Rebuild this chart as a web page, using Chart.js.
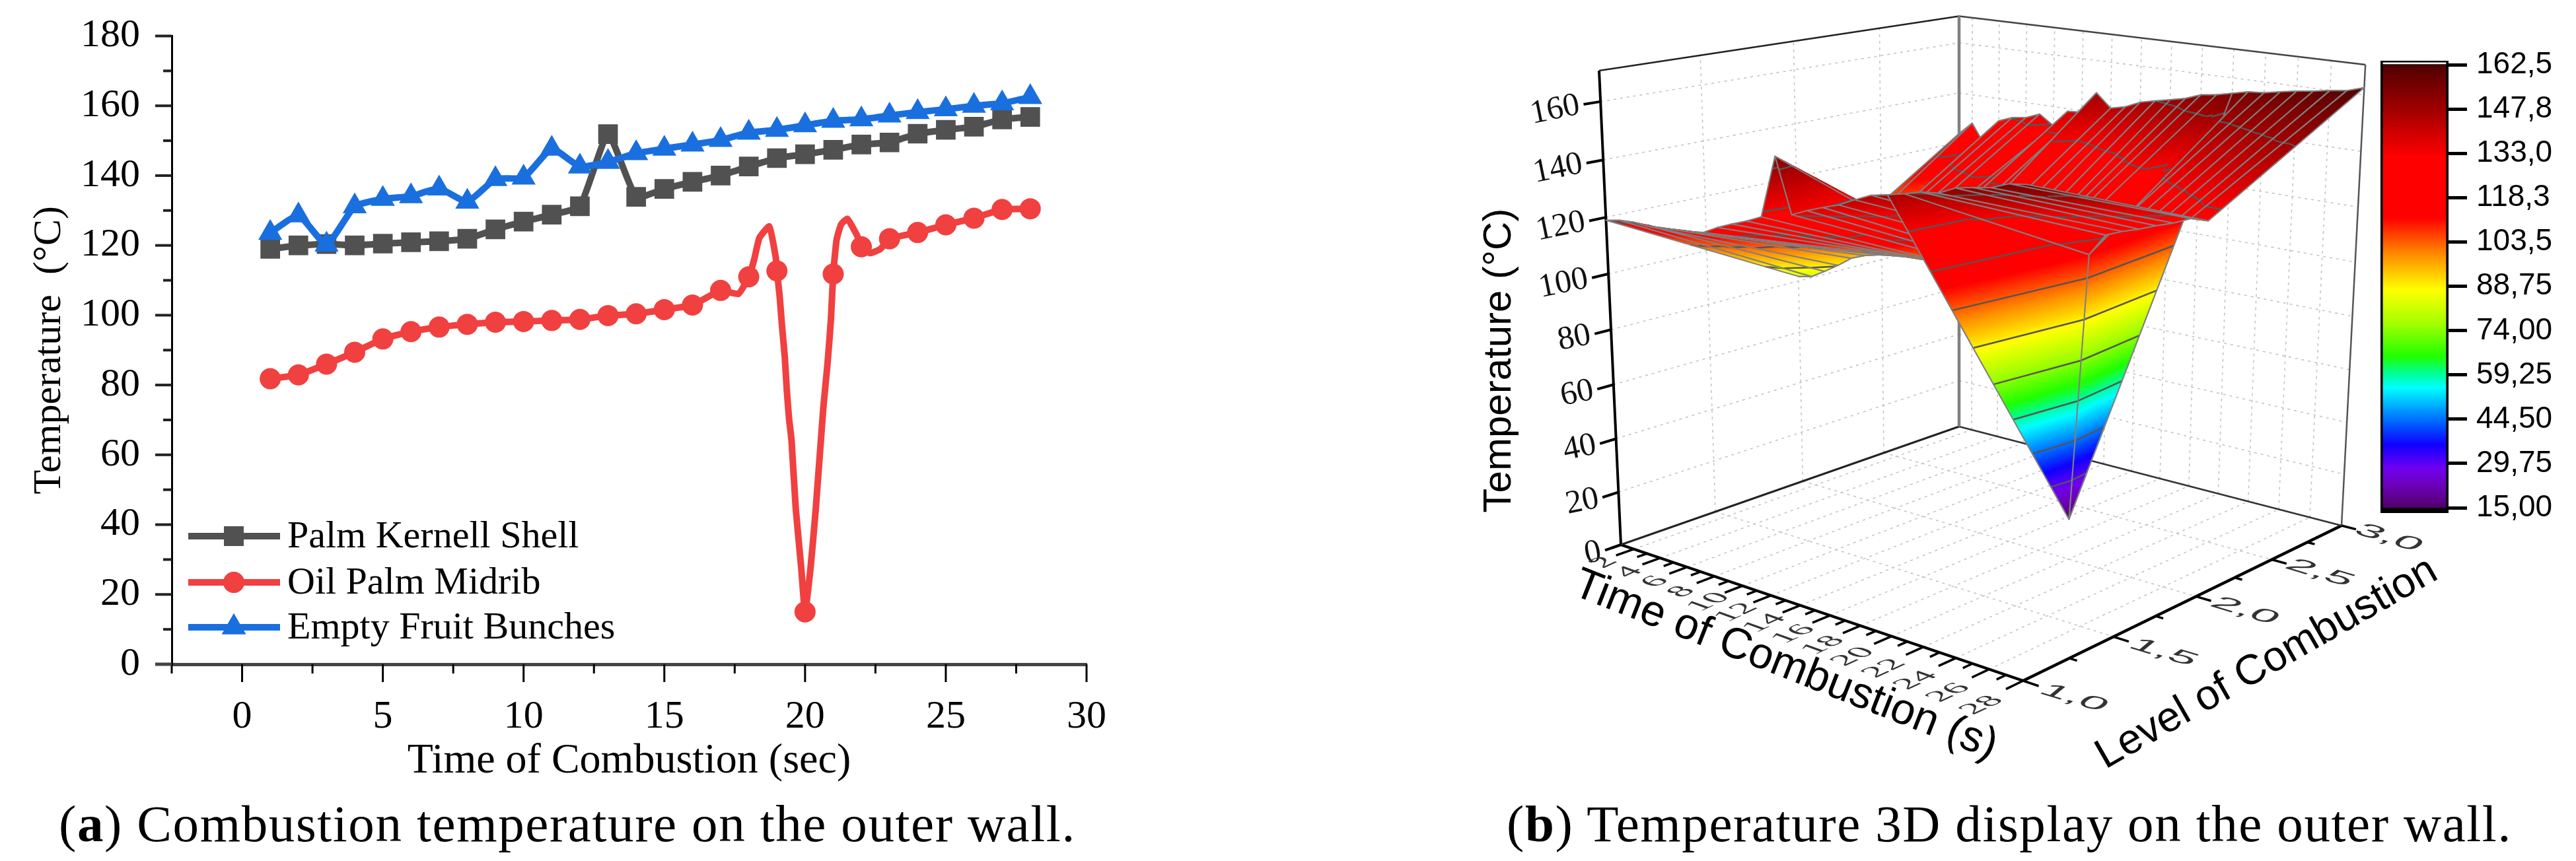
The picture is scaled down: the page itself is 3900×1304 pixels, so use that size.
<!DOCTYPE html>
<html>
<head>
<meta charset="utf-8">
<title>Combustion temperature on the outer wall</title>
<script src="https://cdn.jsdelivr.net/npm/chart.js@4"></script>
<style>
  html, body { margin: 0; background: #fff; }
  #page { position: relative; width: 3900px; height: 1304px; overflow: hidden; }
  canvas { position: absolute; }
  .caption { position: absolute; white-space: nowrap; color: #000; font-family: "Liberation Serif", serif; font-size: 79px; line-height: 80px; }
</style>
</head>
<body>
<div id="page">
  <canvas id="lines" width="1780" height="1200" style="left:0;top:0"></canvas>
  <canvas id="surface" width="1560" height="1200" style="left:2200px;top:0"></canvas>
  <canvas id="colorbar" width="300" height="800" style="left:3600px;top:0"></canvas>
  <div class="caption" style="left:89px;top:1208px;letter-spacing:1.6px">(<b>a</b>) Combustion temperature on the outer wall.</div>
  <div class="caption" style="left:2281px;top:1208px;letter-spacing:1.6px">(<b>b</b>) Temperature 3D display on the outer wall.</div>
</div>
<script>
// values
const times = [1, 2, 3, 4, 5, 6, 7, 8, 9, 10, 11, 12, 13, 14, 15, 16, 17, 18, 19, 20, 21, 22, 23, 24, 25, 26, 27, 28];
const palmKernell = [119, 120, 120.4, 120, 120.5, 120.9, 121.2, 121.9, 124.6, 126.8, 128.8, 131.2, 151.9, 133.9, 136.2, 138.2, 140, 142.6, 145, 146.1, 147.4, 148.9, 149.5, 152, 153.1, 154, 156.1, 156.8];
const oilPalmMidrib = [81.8, 82.9, 86, 89.4, 93.2, 95.3, 96.6, 97.4, 98, 98.2, 98.5, 98.8, 99.9, 100.4, 101.6, 102.9, 107.1, 111, 112.7, 15, 111.8, 119.6, 121.9, 123.7, 125.9, 127.8, 130.3, 130.5];
const emptyFruit = [123.6, 128.6, 120.2, 131.2, 133.3, 134.1, 136.3, 132.5, 139, 139.4, 147.7, 142.6, 143.9, 146.4, 147.7, 148.9, 150.2, 152.3, 153.1, 154.4, 155.7, 156.1, 157.2, 158.2, 159, 160, 160.7, 162.5];
const midribBendTimes = [17.63, 18.19, 18.38, 18.73, 18.96, 19.1, 19.18, 19.28, 19.35, 19.43, 19.52, 19.67, 19.86, 20.2, 20.38, 20.65, 20.8, 20.92, 21.12, 21.28, 21.5, 21.85, 22.3, 22.68];
const midribBendTemps = [106.1, 115.9, 122.2, 125.4, 116.5, 105.2, 97, 88, 78.7, 70.5, 64, 44.5, 28, 28, 44.5, 73.6, 86.3, 98.9, 121.6, 126, 127.6, 122.8, 117.8, 119];

const seriesNames = ["Palm Kernell Shell", "Oil Palm Midrib", "Empty Fruit Bunches"];
const seriesColors = ["#515151", "#F14040", "#1A6FDF"];

const xTicks = [0, 5, 10, 15, 20, 25, 30];
const xMinorTicks = [-2.5, 2.5, 7.5, 12.5, 17.5, 22.5, 27.5];
const yTicks = [0, 20, 40, 60, 80, 100, 120, 140, 160, 180];
const yMinorTicks = [10, 30, 50, 70, 90, 110, 130, 150, 170];

const levels = [1, 2, 3];
const timeTicks = [2, 4, 6, 8, 10, 12, 14, 16, 18, 20, 22, 24, 26, 28];
const levelTicks = [1, 1.5, 2, 2.5, 3];
const levelTickLabels = ["1,0", "1,5", "2,0", "2,5", "3,0"];
const levelMinorTicks = [1.25, 1.75, 2.25, 2.75];
const tempTicks = [0, 20, 40, 60, 80, 100, 120, 140, 160];
const tempTop = 170.5;

const colorbarTicks = [15, 29.75, 44.5, 59.25, 74, 88.75, 103.5, 118.25, 133, 147.75, 162.5];
const colorbarLabels = ["15,00", "29,75", "44,50", "59,25", "74,00", "88,75", "103,5", "118,3", "133,0", "147,8", "162,5"];
const paletteValues = [15, 22, 28, 36, 42, 48, 55, 60, 65.5, 76, 87.6, 99, 111.6, 131.8, 147.75, 162.5];
const paletteColors = ["#500068", "#6c00b4", "#7000f0", "#1000ff", "#0050ff", "#00a0ff", "#00ffff", "#00ff90", "#20ff00", "#a0ff00", "#ffff00", "#ff9000", "#ff0000", "#ff0000", "#a00000", "#500000"];

Chart.defaults.animation = false;
Chart.defaults.devicePixelRatio = 1;
Chart.defaults.plugins.tooltip.enabled = false;

const SERIF = "'Liberation Serif', serif";
const SANS = "'Liberation Sans', sans-serif";

// ---------- (a) line chart ----------
const midribCurve = times.map((t, i) => ({ x: t, y: oilPalmMidrib[i] }))
  .concat(midribBendTimes.map((t, i) => ({ x: t, y: midribBendTemps[i] })))
  .sort((a, b) => a.x - b.x);

function lineSet(i, data, pointStyle, radius, order) {
  return {
    label: seriesNames[i], data, order, pointStyle,
    borderColor: seriesColors[i], backgroundColor: seriesColors[i],
    borderWidth: 10, tension: 0.15,
    pointRadius: (ctx) => (Number.isInteger(data[ctx.dataIndex].x) ? radius : 0),
    pointBorderWidth: 0,
  };
}

const lineTicksAndLegend = {
  id: "lineTicksAndLegend",
  afterDraw(chart) {
    const { ctx, scales: { x, y } } = chart;
    const tick = (x0, y0, x1, y1, color, w) => {
      ctx.strokeStyle = color; ctx.lineWidth = w;
      ctx.beginPath(); ctx.moveTo(x0, y0); ctx.lineTo(x1, y1); ctx.stroke();
    };
    ctx.save();
    xTicks.forEach((v) => tick(x.getPixelForValue(v), y.bottom, x.getPixelForValue(v), y.bottom + 27, "#000", 3));
    xMinorTicks.forEach((v) => tick(x.getPixelForValue(v), y.bottom, x.getPixelForValue(v), y.bottom + 14, "#000", 3));
    yTicks.forEach((v) => tick(x.left, y.getPixelForValue(v), x.left - 25, y.getPixelForValue(v), v === 0 ? "#444" : "#222", v === 0 ? 5 : 4));
    yMinorTicks.forEach((v) => tick(x.left, y.getPixelForValue(v), x.left - 13, y.getPixelForValue(v), "#222", 4));

    // legend keeps the line and the marker together
    const rows = [812, 882, 950];
    const styles = ["rect", "circle", "triangle"];
    const radii = [21, 16, 21];
    seriesNames.forEach((name, i) => {
      tick(285, rows[i], 424, rows[i], seriesColors[i], 10);
      ctx.fillStyle = seriesColors[i];
      Chart.helpers.drawPoint(ctx, { pointStyle: styles[i], radius: radii[i], borderWidth: 0 }, 354, rows[i]);
      ctx.fill();
      ctx.fillStyle = "#000";
      ctx.font = "58px " + SERIF;
      ctx.textAlign = "left"; ctx.textBaseline = "middle";
      ctx.fillText(name, 435, rows[i] + 2);
    });
    ctx.restore();
  },
};

new Chart(document.getElementById("lines"), {
  type: "line",
  data: {
    datasets: [
      lineSet(0, times.map((t, i) => ({ x: t, y: palmKernell[i] })), "rect", 21, 2),
      lineSet(1, midribCurve, "circle", 16, 1),
      lineSet(2, times.map((t, i) => ({ x: t, y: emptyFruit[i] })), "triangle", 21, 0),
    ],
  },
  plugins: [lineTicksAndLegend],
  options: {
    responsive: false,
    layout: { padding: { top: 54.5, right: 135, left: 0, bottom: 0 } },
    plugins: { legend: { display: false } },
    scales: {
      x: {
        type: "linear", min: -2.5, max: 30,
        afterFit: (s) => { s.height = 194; s.paddingLeft = 0; s.paddingRight = 0; },
        afterBuildTicks: (s) => { s.ticks = xTicks.map((v) => ({ value: v })); },
        grid: { drawOnChartArea: false, drawTicks: false },
        border: { color: "#444", width: 5 },
        ticks: { color: "#000", font: { family: SERIF, size: 60 }, padding: 44, maxRotation: 0, autoSkip: false },
        title: { display: true, text: "Time of Combustion (sec)", color: "#000", font: { family: SERIF, size: 64 }, padding: { top: 0, bottom: 8 } },
      },
      y: {
        min: 0, max: 180,
        afterFit: (s) => { s.width = 260; s.paddingTop = 0; s.paddingBottom = 0; },
        afterBuildTicks: (s) => { s.ticks = yTicks.map((v) => ({ value: v })); },
        grid: { drawOnChartArea: false, drawTicks: false },
        border: { color: "#000", width: 3 },
        ticks: { color: "#000", font: { family: SERIF, size: 60 }, padding: 48, autoSkip: false },
        title: { display: true, text: "Temperature  (°C)", color: "#000", font: { family: SERIF, size: 60 }, padding: { top: 39, bottom: 0 } },
      },
    },
  },
});

// ---------- (b) surface ----------
// camera: box corners on the page, floor homography plus one vertical term
const floorLeft = [2454, 825], floorFront = [3063, 1031], floorRight = [3545, 796], floorBack = [2966, 646];
const topLeft = [2421, 107], topBack = [2966, 24];

function buildCamera() {
  const [x0, y0] = floorLeft, [x1, y1] = floorFront, [x2, y2] = floorRight, [x3, y3] = floorBack;
  const dx1 = x1 - x2, dx2 = x3 - x2, sx = x0 - x1 + x2 - x3;
  const dy1 = y1 - y2, dy2 = y3 - y2, sy = y0 - y1 + y2 - y3;
  const den = dx1 * dy2 - dx2 * dy1;
  const g = (sx * dy2 - dx2 * sy) / den, h = (dx1 * sy - sx * dy1) / den;
  const a = x1 - x0 + g * x1, b = x3 - x0 + h * x3, c = x0;
  const d = y1 - y0 + g * y1, e = y3 - y0 + h * y3, f = y0;
  const r = ((x3 - topBack[0]) * (1 + h) + (topLeft[0] - c)) / (topBack[0] - topLeft[0]);
  const p = topLeft[0] * (1 + r) - c, q = topLeft[1] * (1 + r) - f;
  return { a, b, c, d, e, f, g, h, p, q, r };
}
const cam = buildCamera();

function depth(t, level, temp) {
  return cam.g * (t - 1) / 27 + cam.h * (level - 1) / 2 + cam.r * temp / tempTop + 1;
}
function project(t, level, temp) {
  const u = (t - 1) / 27, v = (level - 1) / 2, w = temp / tempTop;
  const den = depth(t, level, temp);
  return {
    x: (cam.a * u + cam.b * v + cam.c + cam.p * w) / den,
    y: (cam.d * u + cam.e * v + cam.f + cam.q * w) / den,
  };
}

function hexRgb(hex) {
  return [1, 3, 5].map((i) => parseInt(hex.slice(i, i + 2), 16));
}
function paletteAt(value) {
  let i = 0;
  while (i < paletteValues.length - 2 && value > paletteValues[i + 1]) i++;
  const k = Math.min(1, Math.max(0, (value - paletteValues[i]) / (paletteValues[i + 1] - paletteValues[i])));
  const a = hexRgb(paletteColors[i]), b = hexRgb(paletteColors[i + 1]);
  return `rgb(${a.map((c, n) => Math.round(c + (b[n] - c) * k)).join(",")})`;
}

const levelValues = [palmKernell, oilPalmMidrib, emptyFruit];

const surfacePlugin = {
  id: "surfacePlugin",
  beforeDatasetsDraw(chart) {
    const { ctx } = chart;
    const pt = plane(chart);
    ctx.save();
    ctx.strokeStyle = "#c4c4c4"; ctx.lineWidth = 1.6; ctx.setLineDash([4, 6]);
    const seg = (a, b) => { const p = pt(...a), q = pt(...b); ctx.beginPath(); ctx.moveTo(p.x, p.y); ctx.lineTo(q.x, q.y); ctx.stroke(); };
    tempTicks.slice(1).forEach((z) => {
      seg([1, 1, z], [1, 3, z]);
      seg([1, 3, z], [28, 3, z]);
    });
    levelTicks.slice(1, -1).forEach((l) => {
      seg([1, l, 0], [1, l, tempTop]);
      seg([1, l, 0], [28, l, 0]);
    });
    timeTicks.forEach((t) => {
      seg([t, 3, 0], [t, 3, tempTop]);
      seg([t, 1, 0], [t, 3, 0]);
    });
    ctx.restore();
  },
  afterDatasetsDraw(chart) {
    const { ctx } = chart;
    const pt = plane(chart);
    ctx.save();
    ctx.lineJoin = "round";
    drawSurface(ctx, pt);
    drawAxisTicks(ctx, pt);
    drawAxisTitles(ctx, chart);
    ctx.restore();
  },
};

function plane(chart) {
  const { x, y } = chart.scales;
  return (t, level, temp) => {
    const p = project(t, level, temp);
    return { x: x.getPixelForValue(p.x), y: y.getPixelForValue(p.y) };
  };
}

function paintTri(ctx, pt, a, b, c) {
  const zs = [a.z, b.z, c.z];
  const lo = Math.min(...zs), hi = Math.max(...zs);
  if (hi - lo <= 1.2) {
    const pa = pt(a.t, a.l, a.z), pb = pt(b.t, b.l, b.z), pc = pt(c.t, c.l, c.z);
    const col = paletteAt((a.z + b.z + c.z) / 3);
    ctx.fillStyle = col; ctx.strokeStyle = col; ctx.lineWidth = 1;
    ctx.beginPath(); ctx.moveTo(pa.x, pa.y); ctx.lineTo(pb.x, pb.y); ctx.lineTo(pc.x, pc.y); ctx.closePath();
    ctx.fill(); ctx.stroke();
    return;
  }
  const mid = (p, q) => ({ t: (p.t + q.t) / 2, l: (p.l + q.l) / 2, z: (p.z + q.z) / 2 });
  const dab = Math.abs(a.z - b.z), dbc = Math.abs(b.z - c.z), dca = Math.abs(c.z - a.z);
  if (dab >= dbc && dab >= dca) { const m = mid(a, b); paintTri(ctx, pt, a, m, c); paintTri(ctx, pt, m, b, c); }
  else if (dbc >= dca) { const m = mid(b, c); paintTri(ctx, pt, a, b, m); paintTri(ctx, pt, a, m, c); }
  else { const m = mid(c, a); paintTri(ctx, pt, a, b, m); paintTri(ctx, pt, m, b, c); }
}

function contourTri(ctx, pt, tri) {
  ctx.strokeStyle = "#555"; ctx.lineWidth = 2.5;
  colorbarTicks.slice(1, -1).forEach((c) => {
    const hits = [];
    for (let i = 0; i < 3; i++) {
      const p = tri[i], q = tri[(i + 1) % 3];
      if ((p.z - c) * (q.z - c) < 0) {
        const k = (c - p.z) / (q.z - p.z);
        hits.push(pt(p.t + (q.t - p.t) * k, p.l + (q.l - p.l) * k, c));
      }
    }
    if (hits.length === 2) {
      ctx.beginPath(); ctx.moveTo(hits[0].x, hits[0].y); ctx.lineTo(hits[1].x, hits[1].y); ctx.stroke();
    }
  });
}

function drawSurface(ctx, pt) {
  const cells = [];
  for (let j = 0; j < levels.length - 1; j++) {
    for (let i = 0; i < times.length - 1; i++) {
      const corner = (ii, jj) => ({ t: times[ii], l: levels[jj], z: levelValues[jj][ii] });
      const quad = [corner(i, j), corner(i + 1, j), corner(i + 1, j + 1), corner(i, j + 1)];
      const far = quad.reduce((s, v) => s + depth(v.t, v.l, v.z), 0) / 4;
      cells.push({ quad, far });
    }
  }
  cells.sort((a, b) => b.far - a.far);
  cells.forEach(({ quad }) => {
    // the lowest corner gets its own triangle, that keeps the dip's flanks flat
    let low = 0;
    quad.forEach((v, n) => { if (v.z < quad[low].z) low = n; });
    const v0 = quad[low], v1 = quad[(low + 1) % 4], v2 = quad[(low + 2) % 4], v3 = quad[(low + 3) % 4];
    const tris = [[v0, v1, v3], [v1, v2, v3]];
    tris.sort((a, b) => {
      const dz = (tri) => tri.reduce((s, v) => s + depth(v.t, v.l, v.z), 0);
      return dz(b) - dz(a);
    });
    tris.forEach((tri) => { paintTri(ctx, pt, ...tri); contourTri(ctx, pt, tri); });
    ctx.strokeStyle = "#808080"; ctx.lineWidth = 2;
    ctx.beginPath();
    quad.forEach((v, n) => {
      const p = pt(v.t, v.l, v.z);
      if (n === 0) ctx.moveTo(p.x, p.y); else ctx.lineTo(p.x, p.y);
    });
    ctx.closePath(); ctx.stroke();
  });
}

function drawAxisTicks(ctx, pt) {
  const seg = (a, b, w) => {
    const p = pt(...a), q = pt(...b);
    ctx.lineWidth = w; ctx.beginPath(); ctx.moveTo(p.x, p.y); ctx.lineTo(q.x, q.y); ctx.stroke();
  };
  ctx.strokeStyle = "#000";
  ctx.fillStyle = "#111";
  // temperature axis
  tempTicks.forEach((z) => {
    seg([1, 1, z], [1, 0.92, z], 4);
    const p = pt(1, 0.9, z);
    ctx.save();
    ctx.translate(p.x, p.y); ctx.rotate(-0.2);
    ctx.font = "50px " + SERIF; ctx.textAlign = "right"; ctx.textBaseline = "middle";
    ctx.fillText(String(z), 0, 0);
    ctx.restore();
  });
  // time axis
  times.forEach((t) => {
    const major = t % 2 === 0;
    seg([t, 1, 0], [t, major ? 0.91 : 0.95, 0], 3.5);
  });
  timeTicks.forEach((t) => {
    const p = pt(t + 0.3, 0.83 - (t - 2) / 26 * 0.07, 0);
    ctx.save();
    ctx.translate(p.x, p.y); ctx.transform(1.35, -0.62, 1.1, 0.4, 0, 0);
    ctx.font = "36px " + SERIF; ctx.textAlign = "center"; ctx.textBaseline = "middle";
    ctx.fillStyle = "#333";
    ctx.fillText(String(t), 0, 0);
    ctx.restore();
  });
  // level axis
  levelTicks.forEach((l, i) => {
    seg([28, l, 0], [28.9, l, 0], 3.5);
    const p = pt(30.9, l, 0);
    ctx.save();
    ctx.translate(p.x, p.y); ctx.transform(1.5, 0.45, -0.6, 0.5, 0, 0);
    ctx.font = "46px " + SANS; ctx.textAlign = "center"; ctx.textBaseline = "middle";
    ctx.fillStyle = "#333";
    ctx.fillText(levelTickLabels[i], 0, 0);
    ctx.restore();
  });
  levelMinorTicks.forEach((l) => seg([28, l, 0], [28.45, l, 0], 3.5));
}

function drawAxisTitles(ctx, chart) {
  const { x, y } = chart.scales;
  const title = (text, px, py, angle, size) => {
    ctx.save();
    ctx.translate(x.getPixelForValue(px), y.getPixelForValue(py)); ctx.rotate(angle);
    ctx.fillStyle = "#000"; ctx.font = size + "px " + SANS;
    ctx.textAlign = "center"; ctx.textBaseline = "middle";
    ctx.fillText(text, 0, 0);
    ctx.restore();
  };
  title("Temperature (°C)", 2270, 546, -Math.PI / 2, 60);
  title("Time of Combustion (s)", 2703, 1008, 0.375, 66);
  title("Level of Combustion", 3432, 1005, -0.52, 64);
}

function edge(a, b, color, width) {
  const p = project(...a), q = project(...b);
  return { data: [p, q], showLine: true, borderColor: color, borderWidth: width, pointRadius: 0 };
}

new Chart(document.getElementById("surface"), {
  type: "scatter",
  data: {
    datasets: [
      edge([1, 3, 0], [1, 3, tempTop], "#808080", 4.5),
      edge([28, 3, 0], [28, 3, tempTop], "#555", 2.5),
      edge([1, 1, tempTop], [1, 3, tempTop], "#222", 2.5),
      edge([1, 3, tempTop], [28, 3, tempTop], "#444", 2.5),
      edge([1, 1, 0], [1, 3, 0], "#222", 3),
      edge([1, 3, 0], [28, 3, 0], "#333", 2.5),
      edge([1, 1, 0], [1, 1, tempTop], "#000", 4),
      edge([1, 1, 0], [28, 1, 0], "#000", 4),
      edge([28, 1, 0], [28, 3, 0], "#000", 4.5),
    ],
  },
  plugins: [surfacePlugin],
  options: {
    responsive: false,
    layout: { padding: 0 },
    plugins: { legend: { display: false } },
    scales: {
      x: { type: "linear", min: 2200, max: 3760, display: false },
      y: { type: "linear", min: 0, max: 1200, reverse: true, display: false },
    },
  },
});

// ---------- colour bar ----------
function barGradient(ctx) {
  const { chart } = ctx;
  const y = chart.scales.y;
  if (!y || !chart.chartArea || !Number.isFinite(y.getPixelForValue(15))) return "#000";
  const grad = chart.ctx.createLinearGradient(0, y.getPixelForValue(15), 0, y.getPixelForValue(162.5));
  paletteValues.forEach((v, i) => grad.addColorStop((v - 15) / 147.5, paletteColors[i]));
  return grad;
}

new Chart(document.getElementById("colorbar"), {
  type: "bar",
  data: {
    labels: ["T"],
    datasets: [
      { data: [[162.8, 163.4]], backgroundColor: "#fff", barPercentage: 0.93, categoryPercentage: 1, grouped: false, order: 0 },
      { data: [[15, 162.5]], backgroundColor: barGradient, barPercentage: 0.93, categoryPercentage: 1, grouped: false, order: 1 },
      { data: [[13.24, 163.95]], backgroundColor: "#000", barPercentage: 1, categoryPercentage: 1, grouped: false, order: 2 },
    ],
  },
  options: {
    responsive: false,
    layout: { padding: { top: 92, bottom: 23, left: 4, right: 0 } },
    plugins: { legend: { display: false } },
    scales: {
      x: { display: false },
      y: {
        position: "right", min: 13.24, max: 163.95,
        afterFit: (s) => { s.width = 193; s.paddingTop = 0; s.paddingBottom = 0; },
        afterBuildTicks: (s) => { s.ticks = colorbarTicks.map((v) => ({ value: v })); },
        grid: { drawOnChartArea: false, tickLength: 28, tickWidth: 5, tickColor: "#000" },
        border: { display: false },
        ticks: {
          color: "#000", font: { family: SANS, size: 46 }, padding: 14, autoSkip: false,
          callback: (v, i) => colorbarLabels[i],
        },
      },
    },
  },
});
</script>
</body>
</html>
